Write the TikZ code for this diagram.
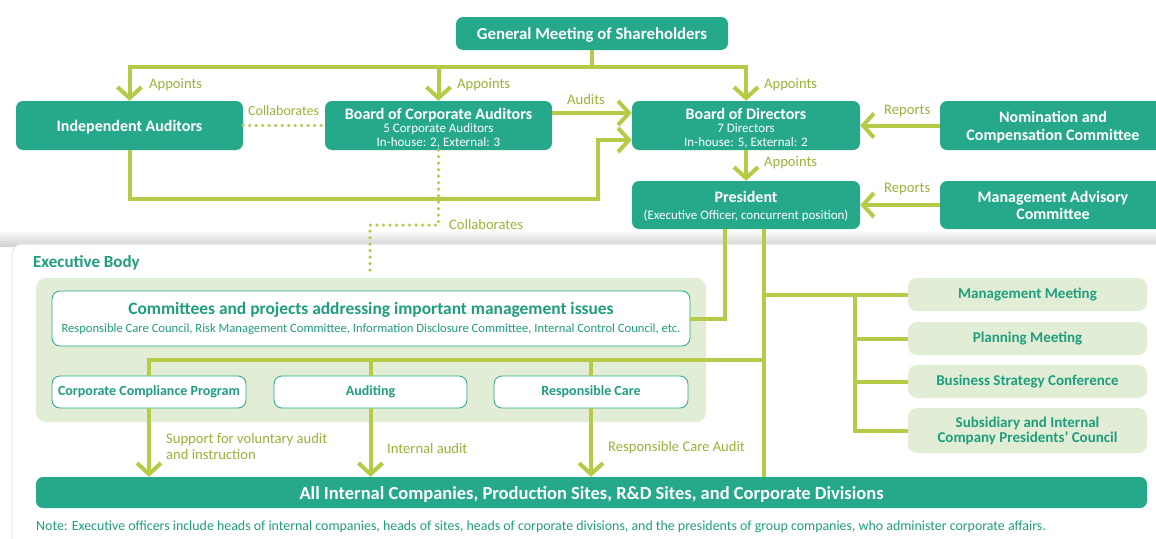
\documentclass[tikz,border=0pt]{standalone}
\usepackage{fontspec}
\setmainfont{Carlito}
\usetikzlibrary{arrows.meta,positioning,calc}

\definecolor{boxteal}{RGB}{38,169,139}
\definecolor{textteal}{RGB}{30,158,126}
\definecolor{linelime}{RGB}{181,203,71}
\definecolor{labelolive}{RGB}{150,180,55}
\definecolor{panelgreen}{RGB}{225,237,212}

\newcommand{\fsTitle}{\fontsize{16}{18}\selectfont}
\newcommand{\fsSub}{\fontsize{13}{13}\selectfont}
\newcommand{\fsLabel}{\fontsize{14.6}{16}\selectfont}

\tikzset{
  darkbox/.style={fill=boxteal, text=white, rounded corners=7pt, align=center,
    inner sep=0pt, font=\bfseries\fsTitle},
  lightbox/.style={fill=panelgreen, text=textteal, rounded corners=9pt, align=center,
    inner sep=0pt, minimum width=239pt, font=\bfseries\fontsize{15}{16}\selectfont},
  whitebox/.style={fill=white, draw=boxteal, line width=0.8pt, text=textteal,
    rounded corners=8pt, align=center, inner sep=0pt, font=\bfseries\fontsize{14}{15}\selectfont},
  link/.style={draw=linelime, line width=4pt},
  arr/.style={link, -{Straight Barb[length=11pt,width=24pt]}},
  dotline/.style={draw=linelime, line width=3.5pt, line cap=round, dash pattern=on 0pt off 6.5pt},
  lbl/.style={text=labelolive, font=\fsLabel, inner sep=0pt, anchor=west, align=left}
}

\begin{document}
\begin{tikzpicture}[x=1pt,y=-1pt]
    \useasboundingbox (0,0) rectangle (1156,538);
    \clip (0,0) rectangle (1156,538);

    % Executive body frame with its shadow
    \shade[top color=white, bottom color=black!18] (0,230) rectangle (1156,246);
    \fill[white, rounded corners=10pt] (12,244) rectangle (1180,560);
    \draw[black!10, line width=1pt, rounded corners=10pt] (1180,244) -- (12,244) -- (12,560);
    \node[text=textteal, font=\bfseries\fontsize{17}{18}\selectfont, anchor=west, inner sep=0pt] (exec) at (33,263) {Executive Body};
    \fill[panelgreen, rounded corners=10pt] (36,278) rectangle (706,422);

    % Governance boxes
    \node[darkbox, minimum width=272pt, minimum height=33pt, font=\bfseries\fontsize{16.8}{18}\selectfont] (gm) at (592,33.5) {\rule{0pt}{15pt}General Meeting of Shareholders};
    \node[darkbox, minimum width=227pt, minimum height=49pt] (ia) at (129.5,125.5) {\rule{0pt}{14pt}Independent Auditors};
    \node[darkbox, minimum width=227pt, minimum height=49pt] (bca) at (438.5,125.5)
        {\rule{0pt}{17pt}Board of Corporate Auditors\\[-5pt]{\mdseries\fsSub 5 Corporate Auditors}\\[-4pt]{\mdseries\fsSub In-house: 2, External: 3}};
    \node[darkbox, minimum width=228pt, minimum height=49pt] (bod) at (746,125.5)
        {\rule{0pt}{17pt}Board of Directors\\[-5pt]{\mdseries\fsSub 7 Directors}\\[-4pt]{\mdseries\fsSub In-house: 5, External: 2}};
    \node[darkbox, minimum width=226pt, minimum height=49pt] (nom) at (1053,125.5) {\rule{0pt}{14pt}Nomination and\\[0pt]Compensation Committee};
    \node[darkbox, minimum width=228pt, minimum height=48pt] (pres) at (746,205)
        {\rule{0pt}{15pt}President\\[-1pt]{\mdseries\fsSub (Executive Officer, concurrent position)}};
    \node[darkbox, minimum width=226pt, minimum height=48pt] (mac) at (1053,205) {Management Advisory\\[-1pt]Committee};

    % Executive body boxes
    \node[whitebox, minimum width=638pt, minimum height=55pt] (comm) at (371,318.5)
        {{\fontsize{17.4}{18}\selectfont Committees and projects addressing important management issues}\\[3pt]
         {\mdseries\fontsize{12.6}{13}\selectfont Responsible Care Council, Risk Management Committee, Information Disclosure Committee, Internal Control Council, etc.}};
    \node[whitebox, minimum width=194pt, minimum height=32pt] (ccp) at (149,392) {Corporate Compliance Program};
    \node[whitebox, minimum width=193pt, minimum height=32pt] (aud) at (370.5,392) {Auditing};
    \node[whitebox, minimum width=194pt, minimum height=32pt] (rc) at (591,392) {Responsible Care};

    \node[lightbox, minimum height=33pt] (mm) at (1027.5,294.5) {Management Meeting};
    \node[lightbox, minimum height=33pt] (pm) at (1027.5,338.5) {Planning Meeting};
    \node[lightbox, minimum height=33pt] (bsc) at (1027.5,381.5) {Business Strategy Conference};
    \node[lightbox, minimum height=45pt] (sic) at (1027.5,430.5) {Subsidiary and Internal\\[-1pt]Company Presidents' Council};

    \node[darkbox, minimum width=1111pt, minimum height=31pt, font=\bfseries\fontsize{18.5}{19}\selectfont] (all) at (591.5,492.5)
        {\rule{0pt}{16pt}All Internal Companies, Production Sites, R\&D Sites, and Corporate Divisions};

    % Appointments from the general meeting
    \coordinate (gmbus) at ($(gm.south)+(0,17)$);
    \draw[link] (gm.south) -- (gmbus);
    \draw[arr] (gmbus) -| (ia.north);
    \draw[arr] (gmbus) -| (bca.north);
    \draw[arr] (gmbus) -| (bod.north);
    \node[lbl] (apia) at (149,85) {Appoints};
    \node[lbl] (apbca) at (457,85) {Appoints};
    \node[lbl] (apbod) at (764,85) {Appoints};

    % Audits and collaboration
    \draw[dotline] (ia.east) -- (bca.west);
    \node[lbl, font=\fontsize{14}{16}\selectfont] (colab1) at (248,111) {Collaborates};
    \draw[arr] ([yshift=12.5pt]bca.east) -- ([yshift=12.5pt]bod.west);
    \node[lbl] (audits) at (567,99) {Audits};
    \coordinate (iabend) at (598,199);
    \draw[arr] (ia.south) |- (iabend) |- ([yshift=-14.5pt]bod.west);

    % Reports and president
    \draw[arr] (nom.west) -- (bod.east);
    \node[lbl] (rep1) at (884,111) {Reports};
    \draw[arr] (mac.west) -- (pres.east);
    \node[lbl] (rep2) at (884,189) {Reports};
    \draw[arr] (bod.south) -- (pres.north);
    \node[lbl] (appres) at (764,163) {Appoints};

    % Collaboration with the executive body
    \coordinate (colabend) at (370,273);
    \draw[dotline] (bca.south) -- ++(0,75) -| (colabend);
    \node[lbl] (colab2) at (449,224) {Collaborates};

    % President to the executive body
    \draw[link] ([xshift=-21pt]pres.south) |- (comm.east);
    \coordinate (spine) at ($(pres.south)+(18,0)$);
    \draw[link] (spine) -- (spine |- all.north);
    \coordinate (lbus) at (spine |- 0,360);
    \draw[link] (lbus) -| (ccp.north);
    \draw[link] (aud.north |- lbus) -- (aud.north);
    \draw[link] (rc.north |- lbus) -- (rc.north);
    \coordinate (rbus) at (855,294.5);
    \draw[link] (spine |- mm.west) -- (mm.west);
    \draw[link] (rbus) |- (sic.west);
    \draw[link] (rbus |- pm.west) -- (pm.west);
    \draw[link] (rbus |- bsc.west) -- (bsc.west);

    % Audits of the operating units
    \draw[arr] (ccp.south) -- (ccp.south |- all.north);
    \draw[arr] (aud.south) -- (aud.south |- all.north);
    \draw[arr] (rc.south) -- (rc.south |- all.north);
    \node[lbl] (supp) at (166,446) {Support for voluntary audit\\[0pt]and instruction};
    \node[lbl] (intaud) at (387,448) {Internal audit};
    \node[lbl] (rcaud) at (608,448) {Responsible Care Audit};

    % Note
    \node[text=textteal, font=\fontsize{13.9}{15}\selectfont, anchor=west, inner sep=0pt] (note) at (36,527)
        {Note: Executive officers include heads of internal companies, heads of sites, heads of corporate divisions, and the presidents of group companies, who administer corporate affairs.};
\end{tikzpicture}
\end{document}
